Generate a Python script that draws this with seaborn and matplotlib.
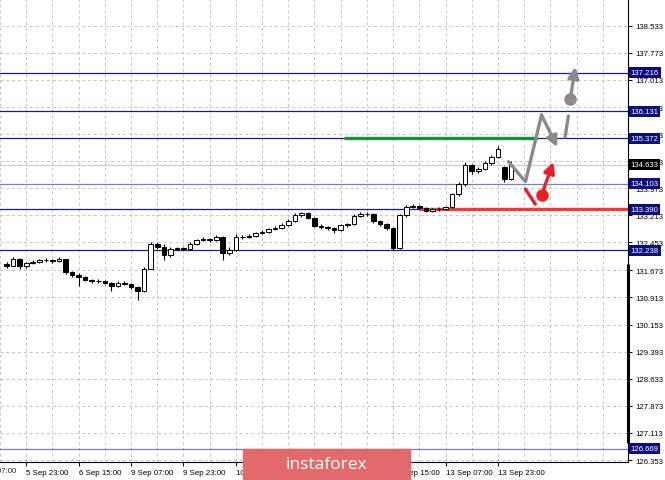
import matplotlib
matplotlib.use("Agg")
import matplotlib.pyplot as plt
import matplotlib.transforms as mtransforms
from matplotlib.patches import Rectangle
import numpy as np
import seaborn as sns

# 2-hour candles, x in trading hours counted from "5 Sep 23:00"
bar_t = list(range(-6, 150, 2))
opens = [131.85, 131.80, 131.99, 131.78, 131.88, 131.92, 131.96, 131.97, 131.93, 131.98,
         131.62, 131.55, 131.48, 131.40, 131.36, 131.38, 131.33, 131.22, 131.33, 131.28,
         131.20, 131.10, 131.72, 132.40, 132.33, 132.10, 132.28, 132.30, 132.27, 132.42,
         132.52, 132.55, 132.53, 132.60, 132.15, 132.25, 132.62, 132.60, 132.63, 132.72,
         132.75, 132.82, 132.86, 132.95, 133.05, 133.22, 133.28, 133.15, 132.92, 132.88,
         132.85, 132.80, 132.93, 132.97, 133.20, 133.26, 133.24, 133.05, 132.97, 132.85,
         132.30, 133.22, 133.45, 133.48, 133.42, 133.35, 133.38, 133.40, 133.45, 133.80,
         134.10, 134.62, 134.45, 134.52, 134.68, 134.85, 134.57, 134.22]
closes = [131.80, 131.99, 131.78, 131.88, 131.92, 131.96, 131.97, 131.93, 131.98, 131.62,
          131.55, 131.48, 131.40, 131.36, 131.38, 131.33, 131.22, 131.33, 131.28, 131.20,
          131.10, 131.72, 132.40, 132.33, 132.10, 132.28, 132.30, 132.27, 132.42, 132.52,
          132.55, 132.53, 132.60, 132.15, 132.25, 132.62, 132.60, 132.63, 132.72, 132.75,
          132.82, 132.86, 132.95, 133.05, 133.22, 133.28, 133.15, 132.92, 132.88, 132.85,
          132.80, 132.93, 132.97, 133.20, 133.26, 133.24, 133.05, 132.97, 132.85, 132.30,
          133.22, 133.45, 133.48, 133.42, 133.35, 133.38, 133.40, 133.45, 133.80, 134.10,
          134.62, 134.45, 134.52, 134.68, 134.85, 135.08, 134.22, 134.63]
highs = [131.92, 132.05, 132.01, 131.92, 131.97, 132.00, 132.02, 132.00, 132.06, 132.00,
         131.66, 131.60, 131.50, 131.44, 131.42, 131.41, 131.35, 131.38, 131.37, 131.31,
         131.22, 131.76, 132.48, 132.47, 132.40, 132.32, 132.34, 132.33, 132.46, 132.56,
         132.60, 132.58, 132.66, 132.64, 132.32, 132.68, 132.66, 132.68, 132.76, 132.80,
         132.86, 132.92, 133.00, 133.10, 133.27, 133.32, 133.31, 133.18, 132.96, 132.92,
         132.88, 132.97, 133.01, 133.25, 133.30, 133.31, 133.27, 133.09, 133.00, 132.88,
         133.26, 133.50, 133.54, 133.51, 133.45, 133.42, 133.44, 133.49, 133.84, 134.15,
         134.70, 134.66, 134.58, 134.73, 134.90, 135.15, 134.60, 134.75]
lows = [131.74, 131.78, 131.72, 131.75, 131.85, 131.89, 131.92, 131.88, 131.90, 131.58,
        131.48, 131.22, 131.36, 131.32, 131.33, 131.29, 131.08, 131.20, 131.25, 131.16,
        130.85, 131.06, 131.70, 132.28, 131.95, 132.06, 132.25, 132.23, 132.25, 132.39,
        132.49, 132.48, 132.50, 131.95, 132.10, 132.22, 132.54, 132.57, 132.60, 132.69,
        132.72, 132.79, 132.83, 132.92, 133.02, 133.18, 133.10, 132.88, 132.83, 132.80,
        132.72, 132.77, 132.90, 132.94, 133.17, 133.20, 133.01, 132.92, 132.80, 132.24,
        132.27, 133.18, 133.42, 133.38, 133.30, 133.31, 133.34, 133.37, 133.42, 133.76,
        134.05, 134.38, 134.40, 134.48, 134.64, 134.82, 134.15, 134.20]

# horizontal levels
dark_levels = [137.216, 136.131, 135.372, 133.390, 132.238]
light_levels = [134.103, 126.669]
last_price = 134.633

# forecast drawing, (hours, price)
gray_path_t = [147.2, 152.4, 157.3]
gray_path_p = [134.72, 134.16, 136.03]
gray_tip = (162.1, 135.13)
gray_seg_t = [164.5, 165.5]
gray_seg_p = [135.41, 136.00]
gray_dot = (166.1, 136.48)
gray_tip2 = (167.6, 137.38)
red_seg_t = [152.4, 155.4]
red_seg_p = [133.95, 133.53]
red_dot = (157.3, 133.78)
red_tip = (160.9, 134.71)
green_t = [97.1, 156.0]
green_level = 135.372
red_start = 119.9
red_level = 133.390

# axes
y_ticks = [138.533, 137.773, 137.013, 136.253, 135.493, 134.733, 133.973, 133.213,
           132.453, 131.673, 130.913, 130.153, 129.393, 128.633, 127.873, 127.113, 126.353]
x_ticks = [0, 16, 32, 48, 64, 80, 96, 112, 128, 144]
x_labels = ["5 Sep 23:00", "6 Sep 15:00", "9 Sep 07:00", "9 Sep 23:00", "10 Sep 15:00",
            "11 Sep 07:00", "11 Sep 23:00", "12 Sep 15:00", "13 Sep 07:00", "13 Sep 23:00"]
x_min, x_max = -7.0, 183.7
y_min, y_max = 126.297, 139.282

sns.set_theme(style="white")
plt.rcParams['font.family'] = ['Liberation Sans', 'DejaVu Sans']

fig = plt.figure(figsize=(6.65, 4.81), dpi=100)
ax = fig.add_axes([0, 18 / 481, 628 / 665, 463 / 481])
ax.set_xlim(x_min, x_max)
ax.set_ylim(y_min, y_max)

# grid
ax.set_xticks(x_ticks)
ax.set_xticks(np.arange(-8, 184, 8), minor=True)
ax.set_yticks(y_ticks)
ax.grid(True, which='both', axis='x', color='#c4c4c4', ls=(0, (3, 3)), lw=0.7)
ax.grid(True, which='major', axis='y', color='#c4c4c4', ls=(0, (3, 3)), lw=0.7)
ax.set_axisbelow(True)

# level lines
for lv in dark_levels:
    ax.axhline(lv, color='#1a1a8a', lw=0.9, zorder=1)
for lv in light_levels:
    ax.axhline(lv, color='#7c7cc8', lw=0.9, zorder=1)
ax.axhline(last_price, color='#cfcfcf', lw=0.9, zorder=1)

ax.plot(green_t, [green_level, green_level], color='#1e8a3c', lw=2.4, zorder=2,
        solid_capstyle='butt')
ax.plot([red_start, x_max], [red_level, red_level], color='#f03a3a', lw=2.4, zorder=2,
        solid_capstyle='butt')

# candles
o = np.array(opens)
c = np.array(closes)
ax.vlines(bar_t, lows, highs, color='black', lw=0.8, zorder=3)
body = np.where(np.abs(c - o) < 0.015, 0.015, c - o)
fill = ['white' if cc >= oo else 'black' for oo, cc in zip(o, c)]
ax.bar(bar_t, body, bottom=o, width=1.4, color=fill, edgecolor='black', lw=0.7, zorder=4)

# forecast arrows
gray = '#8a8a8a'
red = '#f01c24'
sns.lineplot(x=gray_path_t, y=gray_path_p, sort=False, estimator=None, color=gray,
             lw=2.4, ax=ax, zorder=5)
ax.annotate('', xy=gray_tip, xytext=(gray_path_t[-1], gray_path_p[-1]),
            arrowprops=dict(arrowstyle='-|>', color=gray, lw=2.4, mutation_scale=16,
                            shrinkA=0, shrinkB=0), zorder=5)
sns.lineplot(x=gray_seg_t, y=gray_seg_p, sort=False, estimator=None, color=gray,
             lw=2.4, ax=ax, zorder=5)
ax.annotate('', xy=gray_tip2, xytext=gray_dot,
            arrowprops=dict(arrowstyle='-|>', color=gray, lw=2.4, mutation_scale=16,
                            shrinkA=0, shrinkB=0), zorder=5)
ax.plot(*gray_dot, 'o', color=gray, ms=8, zorder=6)
sns.lineplot(x=red_seg_t, y=red_seg_p, sort=False, estimator=None, color=red,
             lw=2.4, ax=ax, zorder=5)
ax.annotate('', xy=red_tip, xytext=red_dot,
            arrowprops=dict(arrowstyle='-|>', color=red, lw=2.4, mutation_scale=16,
                            shrinkA=0, shrinkB=0), zorder=5)
ax.plot(*red_dot, 'o', color=red, ms=8, zorder=6)

# spines and ticks
for side in ['left', 'top']:
    ax.spines[side].set_visible(False)
for side in ['right', 'bottom']:
    ax.spines[side].set_color('black')
    ax.spines[side].set_linewidth(0.8)
ax.yaxis.tick_right()
ax.set_yticklabels([f"{v:.3f}" for v in y_ticks])
ax.set_xticklabels(x_labels)
for lbl in ax.get_xticklabels():
    lbl.set_ha('left')
ax.tick_params(axis='y', which='major', direction='out', length=3, width=0.7,
               pad=2, labelsize=5.6, colors='black', right=True, left=False)
ax.tick_params(axis='x', which='major', direction='out', length=3, width=0.7,
               pad=2, labelsize=5.7, colors='black', bottom=True)
ax.tick_params(axis='x', which='minor', length=0)

blend_y = mtransforms.blended_transform_factory(ax.transAxes, ax.transData)
blend_x = mtransforms.blended_transform_factory(ax.transData, ax.transAxes)

# clipped first date label at the left edge
ax.text(-16, -0.011, "5 Sep 07:00", transform=blend_x, ha='left', va='top',
        fontsize=5.7, clip_on=False)

# thick bar on the price scale
ax.plot([1.0, 1.0], [126.82, 131.86], transform=blend_y, color='black', lw=2.2,
        clip_on=False, solid_capstyle='butt')

# price labels of levels
for lv in dark_levels + light_levels:
    ax.text(1.004, lv, f"{lv:.3f}", transform=blend_y, ha='left', va='center',
            color='white', fontsize=5.6,
            bbox=dict(boxstyle='square,pad=0.25', fc='#0c0c80', ec='none'))
ax.text(1.004, last_price, f"{last_price:.3f}", transform=blend_y, ha='left',
        va='center', color='white', fontsize=5.6,
        bbox=dict(boxstyle='square,pad=0.25', fc='black', ec='none'))

# watermark
fig.patches.append(Rectangle((243 / 665, 0), 167 / 665, 31 / 481,
                             transform=fig.transFigure, color='#e26a6a', zorder=1))
fig.text(326 / 665, 16 / 481, "instaforex", color='white', fontsize=12.5,
         ha='center', va='center', family=['Open Sans', 'DejaVu Sans'], zorder=3)

fig.savefig("out.png", dpi=100)
